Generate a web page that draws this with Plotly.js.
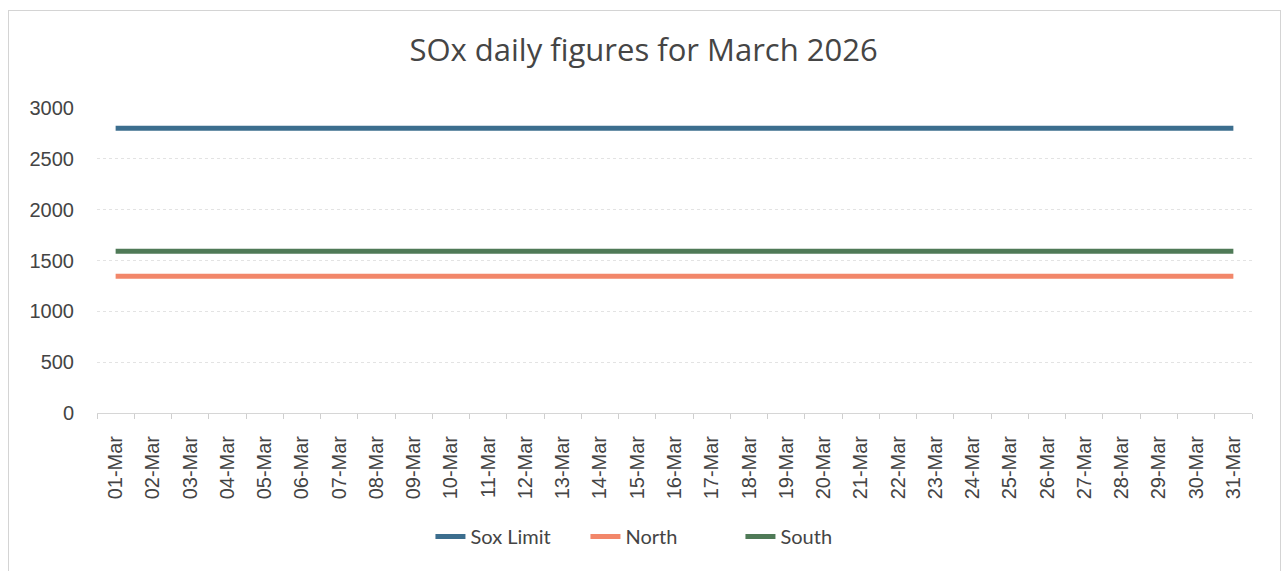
<!DOCTYPE html>
<html>
<head>
<meta charset="utf-8">
<script src="https://cdn.plot.ly/plotly-3.0.1.min.js"></script>
<style>
html,body{margin:0;padding:0;background:#fff;}
#wrap{position:relative;width:1282px;height:571px;}
#chart{width:1282px;height:571px;}
#frame{position:absolute;left:8px;top:10px;width:1271px;height:565px;border:1px solid #d4d4d4;pointer-events:none;}
</style>
</head>
<body>
<div id="wrap"><div id="chart"></div><div id="frame"></div></div>
<script>
const days = ["01-Mar","02-Mar","03-Mar","04-Mar","05-Mar","06-Mar","07-Mar","08-Mar","09-Mar","10-Mar","11-Mar","12-Mar","13-Mar","14-Mar","15-Mar","16-Mar","17-Mar","18-Mar","19-Mar","20-Mar","21-Mar","22-Mar","23-Mar","24-Mar","25-Mar","26-Mar","27-Mar","28-Mar","29-Mar","30-Mar","31-Mar"];
const soxLimit = [2800,2800,2800,2800,2800,2800,2800,2800,2800,2800,2800,2800,2800,2800,2800,2800,2800,2800,2800,2800,2800,2800,2800,2800,2800,2800,2800,2800,2800,2800,2800];
const north = [1345,1345,1345,1345,1345,1345,1345,1345,1345,1345,1345,1345,1345,1345,1345,1345,1345,1345,1345,1345,1345,1345,1345,1345,1345,1345,1345,1345,1345,1345,1345];
const south = [1590,1590,1590,1590,1590,1590,1590,1590,1590,1590,1590,1590,1590,1590,1590,1590,1590,1590,1590,1590,1590,1590,1590,1590,1590,1590,1590,1590,1590,1590,1590];
const yTicks = [0,500,1000,1500,2000,2500,3000];

const mk = (name, y, color) => ({
  type: 'scatter', mode: 'lines', name: name, x: days, y: y,
  line: {color: color, width: 5}
});
const data = [
  mk('Sox Limit', soxLimit, '#3c6e8e'),
  mk('North', north, '#f2876a'),
  mk('South', south, '#4f7a57')
];
const layout = {
  width: 1282, height: 571,
  margin: {l: 97, r: 30, t: 108, b: 158},
  paper_bgcolor: '#fff', plot_bgcolor: '#fff',
  title: {text: 'SOx daily figures for March 2026', x: 0.502, xanchor: 'center', xref: 'container', y: 0.912, yanchor: 'middle',
    font: {family: 'Open Sans, sans-serif', size: 31, color: '#454545'}},
  showlegend: true,
  legend: {orientation: 'h', x: 0.490, xanchor: 'center', y: -0.405, yanchor: 'middle', entrywidth: 110,
    font: {family: 'Lato, sans-serif', size: 20, color: '#444'}, traceorder: 'normal', itemwidth: 30},
  xaxis: {type: 'category', range: [-0.5, 30.5], tickangle: -90, tickson: 'boundaries', ticks: 'outside', ticklen: 5, tickcolor: '#cfcfcf',
    showline: true, linecolor: '#d6d6d6', linewidth: 1, showgrid: false, fixedrange: true, ticklabelstandoff: 14,
    tickfont: {family: 'Liberation Sans, Arial, sans-serif', size: 20, color: '#444'}},
  yaxis: {range: [0, 3000], tickvals: yTicks, ticktext: yTicks.map(String), showgrid: true, gridcolor: '#e3e3e3', griddash: 'dot',
    zeroline: false, showline: false, ticks: '', ticklabelstandoff: 22,
    tickfont: {family: 'Liberation Sans, Arial, sans-serif', size: 20, color: '#444'}}
};
Plotly.newPlot('chart', data, layout, {staticPlot: true, displayModeBar: false});
</script>
</body>
</html>
